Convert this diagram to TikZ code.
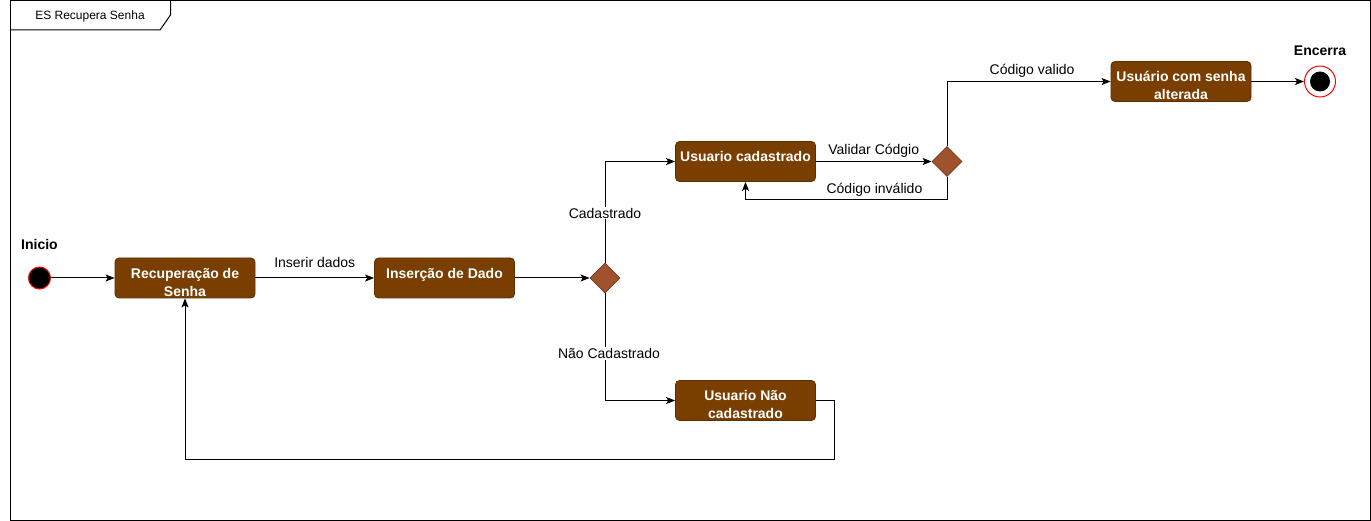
\documentclass[tikz,border=0pt]{standalone}
\usepackage{fontspec}
\setmainfont{Liberation Sans}
\usetikzlibrary{shapes.geometric,arrows.meta}
\definecolor{marrom}{HTML}{7A3E00}
\definecolor{marromborda}{HTML}{5E3000}
\definecolor{losango}{HTML}{A0522D}
\definecolor{losangoborda}{HTML}{6D3A1E}

\begin{document}
\begin{tikzpicture}[x=1pt,y=-1pt,line width=1pt,font=\fontsize{14}{18}\selectfont,
    estado/.style={draw=marromborda,fill=marrom,rounded corners=4pt,minimum width=140pt,minimum height=40pt,line width=0.8pt},
    titulo/.style={anchor=north,yshift=-10pt,inner sep=0pt,align=center,text=white,font=\fontsize{14}{18}\selectfont\bfseries},
    decisao/.style={diamond,draw=losangoborda,fill=losango,minimum width=30pt,minimum height=30pt,inner sep=0pt,line width=0.8pt},
    rotulo/.style={font=\fontsize{14}{18}\selectfont\bfseries},
    seta/.style={-{Stealth[length=9pt,width=7pt,inset=2pt]}}]
    \useasboundingbox (0,0) rectangle (1371,521);
    % moldura
    \draw (10.5,1) rectangle (1370,520);
    \draw (10.5,30) -- (160,30) -- (170.5,15) -- (170.5,1);
    \node[font=\fontsize{12}{14}\selectfont] (nome) at (90,16) {ES Recupera Senha};
    % estados
    \foreach \id/\x/\y/\txt in {recup/185/278/{Recupera\c{c}\~ao de\\Senha}, insere/444.5/278/{Inser\c{c}\~ao de Dado},
        usercad/745.5/161.5/{Usuario cadastrado}, usernao/745.5/400.5/{Usuario N\~ao\\cadastrado},
        useralt/1181/81.5/{Usu\'ario com senha\\alterada}} {
        \node[estado, label={[titulo]north:\txt}] (\id) at (\x,\y) {};
    }
    \node[decisao] (dec1) at (605,278) {};
    \node[decisao] (dec2) at (947,161.5) {};
    \node[circle,draw=red,fill=black,minimum size=22pt,inner sep=0pt,
        label={[rotulo,yshift=13.5pt]above:Inicio}] (ini) at (39.5,278) {};
    \node[circle,draw=red,fill=white,minimum size=31pt,inner sep=0pt,
        path picture={\fill[black] (path picture bounding box.center) circle (10pt);},
        label={[rotulo,yshift=6pt]above:Encerra}] (fim) at (1320,81.5) {};
    % transicoes
    \draw[seta] (ini) -- (recup);
    \draw[seta] (recup) -- node[above=6.5pt] {Inserir dados} (insere);
    \draw[seta] (insere) -- (dec1);
    \draw[seta] (dec1) |- node[pos=0.245,fill=white,inner sep=1pt] {Cadastrado} (usercad);
    \draw[seta] (dec1) |- node[pos=0.28,fill=white,inner sep=1pt,xshift=4pt] {N\~ao Cadastrado} (usernao);
    \draw[seta] (usercad) -- node[above] {Validar C\'odgio} (dec2);
    \draw[seta] (dec2.south) -- ++(0,23) -| node[pos=0.18,above] {C\'odigo inv\'alido} (usercad.south);
    \draw[seta] (dec2) |- node[pos=0.76,above] {C\'odigo valido} (useralt);
    \draw[seta] (useralt) -- (fim);
    \draw[seta] (usernao.east) -- ++(19,0) -- ++(0,59) -| (recup.south);
\end{tikzpicture}
\end{document}
